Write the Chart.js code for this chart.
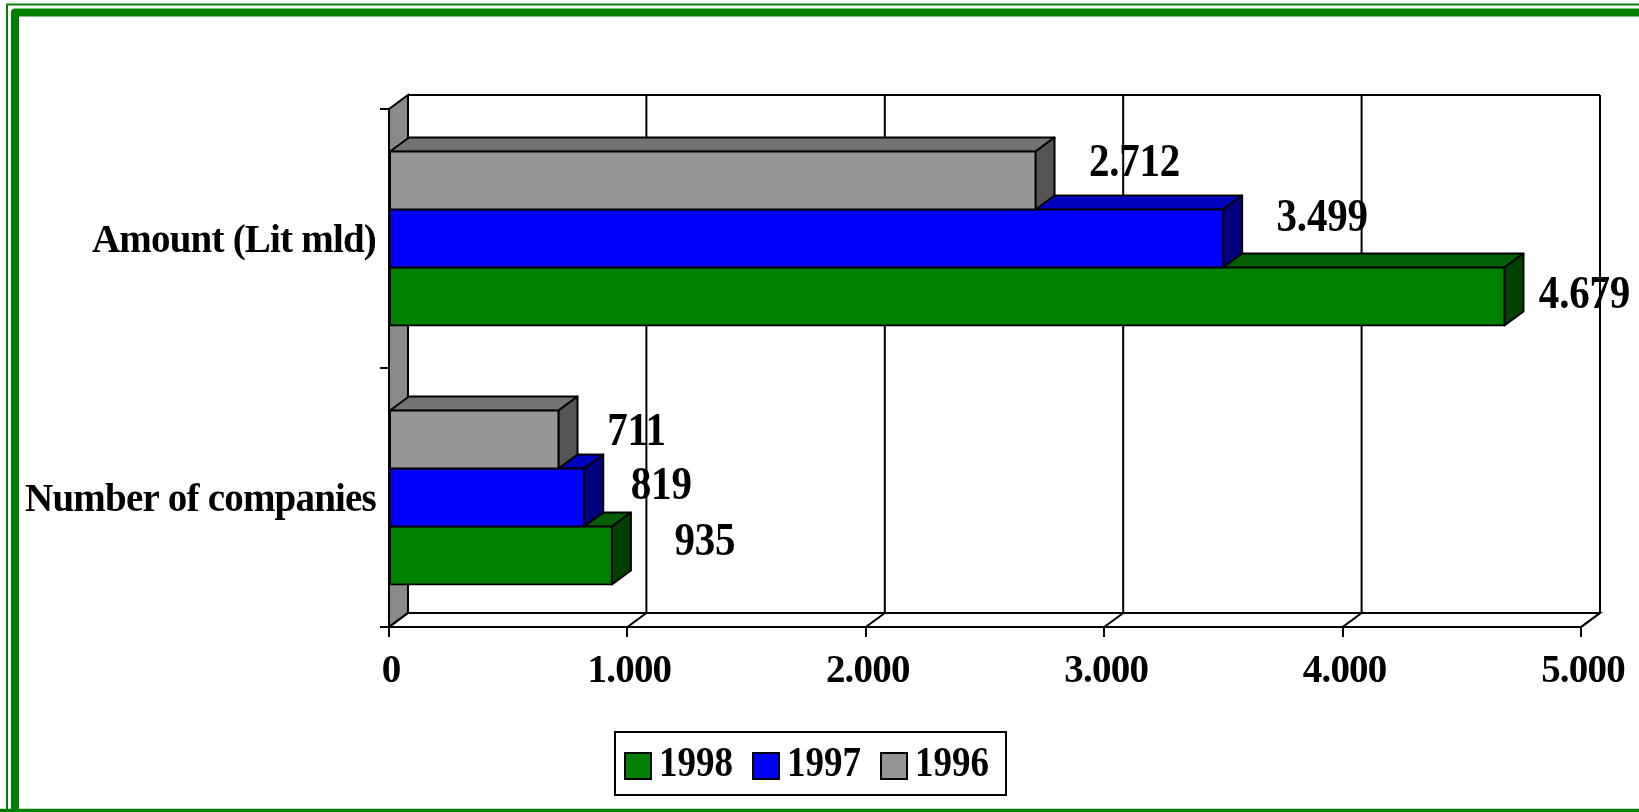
<!DOCTYPE html>
<html>
<head>
<meta charset="utf-8">
<style>
  html, body { margin: 0; padding: 0; background: #fff; }
  canvas { display: block; }
</style>
<script src="https://cdn.jsdelivr.net/npm/chart.js@4"></script>
</head>
<body>
<canvas id="bar_chart" width="1639" height="812"></canvas>
<script>
const categories = ['Amount (Lit mld)', 'Number of companies'];
const seriesNames = ['1996', '1997', '1998'];
const values1996 = [2712, 711];
const values1997 = [3499, 819];
const values1998 = [4679, 935];
const tickMax = 5000;
const tickStep = 1000;

const FONT = '"Liberation Serif", "Times New Roman", serif';
const DX = 19, DY = 14; // depth of the fake 3d box

// front, top, side colour per series
const faceColors = [
  ['#969696', '#737373', '#555555'],
  ['#0000ff', '#0000c0', '#000080'],
  ['#008000', '#006000', '#004000'],
];

// value labels sit off the bars in the original, offset from bar end / bar middle
const labelOffsets = [
  [[99, -16], [78, -6]],
  [[99, -19], [77, -10]],
  [[80, 0], [93, -12]],
];

function dotted(v) {
  return String(v).replace(/\B(?=(\d{3})+$)/g, '.');
}

function poly(ctx, pts, fill) {
  ctx.beginPath();
  pts.forEach((p, i) => (i ? ctx.lineTo(p[0], p[1]) : ctx.moveTo(p[0], p[1])));
  ctx.closePath();
  if (fill) {
    ctx.fillStyle = fill;
    ctx.fill();
  }
  ctx.stroke();
}

// the source text is a bit taller than the font, stretch it on y
function tallText(ctx, text, x, y, stretch) {
  ctx.save();
  ctx.translate(x, y);
  ctx.scale(1, stretch);
  ctx.fillText(text, 0, 0);
  ctx.restore();
}

const frame = {
  id: 'frame',
  beforeDraw(chart) {
    const ctx = chart.ctx;
    ctx.letterSpacing = '-0.8px';
    ctx.save();
    ctx.strokeStyle = '#008000';
    ctx.lineJoin = 'round';
    ctx.lineWidth = 2;
    ctx.beginPath();
    ctx.moveTo(7, 812);
    ctx.lineTo(7, 4.5);
    ctx.lineTo(1639, 4.5);
    ctx.stroke();
    ctx.lineWidth = 8;
    ctx.beginPath();
    ctx.moveTo(15, 820);
    ctx.lineTo(15, 12.5);
    ctx.lineTo(1650, 12.5);
    ctx.stroke();
    ctx.lineWidth = 3.5;
    ctx.beginPath();
    ctx.moveTo(0, 810.5);
    ctx.lineTo(1639, 810.5);
    ctx.stroke();
    ctx.restore();
  },
};

const box3d = {
  id: 'box3d',
  beforeDatasetsDraw(chart) {
    const { ctx, chartArea: a, scales } = chart;
    ctx.save();
    ctx.strokeStyle = '#000';
    ctx.lineWidth = 2;
    // left wall and floor
    poly(ctx, [[a.left, a.top], [a.left + DX, a.top - DY], [a.left + DX, a.bottom - DY], [a.left, a.bottom]], '#8a8a8a');
    poly(ctx, [[a.left, a.bottom], [a.left + DX, a.bottom - DY], [a.right + DX, a.bottom - DY], [a.right, a.bottom]], '#fff');
    // back wall top
    ctx.beginPath();
    ctx.moveTo(a.left + DX, a.top - DY);
    ctx.lineTo(a.right + DX, a.top - DY);
    ctx.stroke();
    // grid lines on back wall, running down onto the floor
    scales.x.ticks.forEach((t) => {
      const x = scales.x.getPixelForValue(t.value);
      ctx.beginPath();
      ctx.moveTo(x + DX, a.top - DY);
      ctx.lineTo(x + DX, a.bottom - DY);
      ctx.lineTo(x, a.bottom);
      ctx.stroke();
    });
    ctx.restore();
  },
  beforeDatasetDraw(chart, args) {
    const ctx = chart.ctx;
    const colors = faceColors[args.index];
    ctx.save();
    ctx.strokeStyle = '#000';
    ctx.lineWidth = 2;
    ctx.lineJoin = 'round';
    args.meta.data.forEach((el) => {
      const top = el.y - el.height / 2;
      const bottom = el.y + el.height / 2;
      poly(ctx, [[el.base, top], [el.base + DX, top - DY], [el.x + DX, top - DY], [el.x, top]], colors[1]);
      poly(ctx, [[el.x, top], [el.x + DX, top - DY], [el.x + DX, bottom - DY], [el.x, bottom]], colors[2]);
    });
    ctx.restore();
  },
  afterDatasetsDraw(chart) {
    const ctx = chart.ctx;
    ctx.save();
    ctx.fillStyle = '#000';
    ctx.font = 'bold 41px ' + FONT;
    ctx.letterSpacing = '-0.2px';
    ctx.textAlign = 'center';
    ctx.textBaseline = 'middle';
    chart.data.datasets.forEach((ds, i) => {
      chart.getDatasetMeta(i).data.forEach((el, j) => {
        const off = labelOffsets[i][j];
        tallText(ctx, dotted(ds.data[j]), el.x + off[0], el.y + off[1], 1.12);
      });
    });
    ctx.restore();
  },
};

// boxed legend, 1998 first. gap between swatch and text is too tight for the built in one
const boxLegend = {
  id: 'boxLegend',
  afterDraw(chart) {
    const ctx = chart.ctx;
    ctx.save();
    ctx.strokeStyle = '#000';
    ctx.lineWidth = 2;
    ctx.strokeRect(615, 732, 391, 63);
    ctx.font = 'bold 37px ' + FONT;
    ctx.letterSpacing = '0px';
    ctx.textBaseline = 'middle';
    chart.data.datasets.slice().reverse().forEach((ds, i) => {
      const x = 625 + i * 128;
      ctx.fillStyle = ds.backgroundColor;
      ctx.fillRect(x, 753, 26, 26);
      ctx.strokeRect(x, 753, 26, 26);
      ctx.fillStyle = '#000';
      tallText(ctx, ds.label, x + 34, 765, 1.16);
    });
    ctx.restore();
  },
};

const series = [values1996, values1997, values1998].map((data, i) => ({
  label: seriesNames[i],
  data: data,
  backgroundColor: faceColors[i][0],
  borderColor: '#000',
  borderWidth: 2,
  borderSkipped: false,
  inflateAmount: 1,
  barPercentage: 1,
  categoryPercentage: 0.672,
}));

new Chart(document.getElementById('bar_chart'), {
  type: 'bar',
  data: { labels: categories, datasets: series },
  plugins: [frame, box3d, boxLegend],
  options: {
    indexAxis: 'y',
    responsive: false,
    animation: false,
    layout: { padding: { left: 20, right: 58, top: 109, bottom: 125 } },
    plugins: {
      legend: { display: false },
      tooltip: { enabled: false },
    },
    scales: {
      x: {
        min: 0,
        max: tickMax,
        border: { color: '#000', width: 2 },
        grid: { drawOnChartArea: false, color: '#000', lineWidth: 2, tickLength: 10 },
        ticks: {
          stepSize: tickStep,
          autoSkip: false,
          maxRotation: 0,
          padding: 12,
          labelOffset: 2,
          color: '#000',
          font: { family: FONT, size: 39, weight: 'bold' },
          callback: (v) => dotted(v),
        },
        afterFit(scale) {
          scale.height = 60;
          scale.paddingLeft = 0;
          scale.paddingRight = 0;
        },
      },
      y: {
        border: { color: '#000', width: 2 },
        grid: { drawOnChartArea: false, color: '#000', lineWidth: 2, tickLength: 9 },
        ticks: {
          padding: 4,
          labelOffset: 3,
          color: '#000',
          font: { family: FONT, size: 39, weight: 'bold' },
        },
        afterFit(scale) {
          scale.width = 369;
          scale.paddingTop = 0;
          scale.paddingBottom = 0;
        },
      },
    },
  },
});
</script>
</body>
</html>
